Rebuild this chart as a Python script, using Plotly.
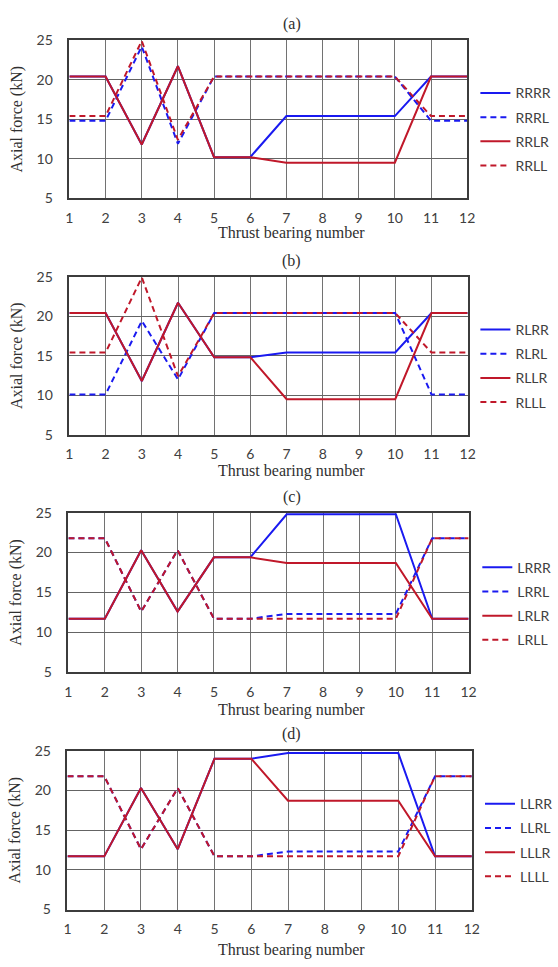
import plotly.graph_objects as go

# ---------------- data ----------------
bearing_number = [1, 2, 3, 4, 5, 6, 7, 8, 9, 10, 11, 12]
y_ticks = [5, 10, 15, 20, 25]

panel_labels = ["(a)", "(b)", "(c)", "(d)"]

names_a = ["RRRR", "RRRL", "RRLR", "RRLL"]
RRRR = [20.4, 20.4, 11.8, 21.7, 10.2, 10.2, 15.4, 15.4, 15.4, 15.4, 20.4, 20.4]
RRRL = [14.8, 14.8, 24.2, 11.9, 20.4, 20.4, 20.4, 20.4, 20.4, 20.4, 14.8, 14.8]
RRLR = [20.4, 20.4, 11.8, 21.7, 10.2, 10.2, 9.5, 9.5, 9.5, 9.5, 20.4, 20.4]
RRLL = [15.4, 15.4, 24.9, 12.4, 20.4, 20.4, 20.4, 20.4, 20.4, 20.4, 15.4, 15.4]

names_b = ["RLRR", "RLRL", "RLLR", "RLLL"]
RLRR = [20.4, 20.4, 11.8, 21.7, 14.8, 14.8, 15.4, 15.4, 15.4, 15.4, 20.4, 20.4]
RLRL = [10.1, 10.1, 19.4, 12.0, 20.4, 20.4, 20.4, 20.4, 20.4, 20.4, 10.1, 10.1]
RLLR = [20.4, 20.4, 11.8, 21.7, 14.8, 14.8, 9.5, 9.5, 9.5, 9.5, 20.4, 20.4]
RLLL = [15.4, 15.4, 24.9, 12.4, 20.4, 20.4, 20.4, 20.4, 20.4, 20.4, 15.4, 15.4]

names_c = ["LRRR", "LRRL", "LRLR", "LRLL"]
LRRR = [11.7, 11.7, 20.3, 12.6, 19.4, 19.4, 24.8, 24.8, 24.8, 24.8, 11.7, 11.7]
LRRL = [21.8, 21.8, 12.6, 20.3, 11.7, 11.7, 12.3, 12.3, 12.3, 12.3, 21.8, 21.8]
LRLR = [11.7, 11.7, 20.3, 12.6, 19.4, 19.4, 18.7, 18.7, 18.7, 18.7, 11.7, 11.7]
LRLL = [21.8, 21.8, 12.6, 20.3, 11.7, 11.7, 11.7, 11.7, 11.7, 11.7, 21.8, 21.8]

names_d = ["LLRR", "LLRL", "LLLR", "LLLL"]
LLRR = [11.7, 11.7, 20.3, 12.6, 24.0, 24.0, 24.7, 24.7, 24.7, 24.7, 11.7, 11.7]
LLRL = [21.8, 21.8, 12.6, 20.3, 11.7, 11.7, 12.3, 12.3, 12.3, 12.3, 21.8, 21.8]
LLLR = [11.7, 11.7, 20.3, 12.6, 24.0, 24.0, 18.7, 18.7, 18.7, 18.7, 11.7, 11.7]
LLLL = [21.8, 21.8, 12.6, 20.3, 11.7, 11.7, 11.7, 11.7, 11.7, 11.7, 21.8, 21.8]

x_title = "Thrust bearing number"
y_title = "Axial force (kN)"

panel_series = [
    (names_a, [RRRR, RRRL, RRLR, RRLL]),
    (names_b, [RLRR, RLRL, RLLR, RLLL]),
    (names_c, [LRRR, LRRL, LRLR, LRLL]),
    (names_d, [LLRR, LLRL, LLLR, LLLL]),
]

# ---------------- layout (pixel geometry) ----------------
W, H = 558, 967
BLUE = "#1a1af0"
RED = "#c0182a"
styles = [(BLUE, "solid"), (BLUE, "6px,4px"), (RED, "solid"), (RED, "6px,4px")]

# plot-area boxes in pixels: left, right, top, bottom
boxes = [
    (67.7, 479.5, 31.7, 192.7),
    (67.7, 480.0, 272.5, 433.3),
    (66.7, 481.0, 512.7, 675.0),
    (65.7, 484.3, 755.0, 916.7),
]
title_y = [15, 256.7, 496.7, 738]
xtitle_y = [228, 470, 714, 958]
legend_mid = [122.5, 363.3, 605.3, 846]
legend_x = [488, 488, 490, 493]
text_cx = 298

def fx(p):
    return p / W

def fy(p):
    return 1 - p / H

SERIF = "Liberation Serif, Times New Roman, serif"
SANS = "Lato, Carlito, Open Sans, sans-serif"

fig = go.Figure()
layout = dict(
    width=W, height=H,
    margin=dict(l=0, r=0, t=0, b=0),
    paper_bgcolor="white", plot_bgcolor="white",
    showlegend=True,
)
annotations = []

for i, ((names, series), (l, r, t, b)) in enumerate(zip(panel_series, boxes)):
    k = "" if i == 0 else str(i + 1)
    leg = "legend" + k
    for j, (nm, vals) in enumerate(zip(names, series)):
        col, dash = styles[j]
        fig.add_trace(go.Scatter(
            x=bearing_number, y=vals, mode="lines", name=nm,
            line=dict(color=col, width=2, dash=dash),
            xaxis="x" + k, yaxis="y" + k,
            legend=leg, legendgroup=f"{leg}_{j}",
        ))
    layout["xaxis" + k] = dict(
        domain=[fx(l), fx(r)], anchor="y" + k,
        range=[1, 12], tickmode="array", tickvals=bearing_number,
        ticktext=[str(v) for v in bearing_number],
        showgrid=True, gridcolor="#727272", gridwidth=1,
        showline=True, mirror=True, linecolor="#3c3c3c", linewidth=1.5,
        zeroline=False, ticks="", ticklabelstandoff=6,
        tickfont=dict(family=SANS, size=14, color="#404040"),
    )
    layout["yaxis" + k] = dict(
        domain=[fy(b), fy(t)], anchor="x" + k,
        range=[5, 25], tickmode="array", tickvals=y_ticks,
        showgrid=True, gridcolor="#646464", gridwidth=1,
        showline=True, mirror=True, linecolor="#3c3c3c", linewidth=1.5,
        zeroline=False, ticks="", ticklabelstandoff=12,
        tickfont=dict(family=SANS, size=14, color="#404040"),
        title=dict(text=y_title, standoff=10,
                   font=dict(family=SERIF, size=16, color="#303030")),
    )
    layout[leg] = dict(
        x=fx(legend_x[i]), xanchor="left", y=fy(legend_mid[i]), yanchor="middle",
        xref="paper", yref="paper",
        bgcolor="rgba(0,0,0,0)", borderwidth=0,
        tracegroupgap=3, traceorder="grouped",
        font=dict(family=SANS, size=14, color="#404040"),
    )
    annotations.append(dict(
        text=panel_labels[i], x=fx(text_cx), y=fy(title_y[i]),
        xref="paper", yref="paper", xanchor="center", yanchor="middle",
        showarrow=False, font=dict(family=SERIF, size=16, color="#303030"),
    ))
    annotations.append(dict(
        text=x_title, x=fx(text_cx), y=fy(xtitle_y[i]),
        xref="paper", yref="paper", xanchor="center", yanchor="middle",
        showarrow=False, font=dict(family=SERIF, size=16, color="#303030"),
    ))

layout["annotations"] = annotations
fig.update_layout(**layout)
fig.write_html(
    "out.html",
    config={"displayModeBar": False},
    post_script="document.body.style.margin='0px';document.body.style.overflow='hidden';",
)
